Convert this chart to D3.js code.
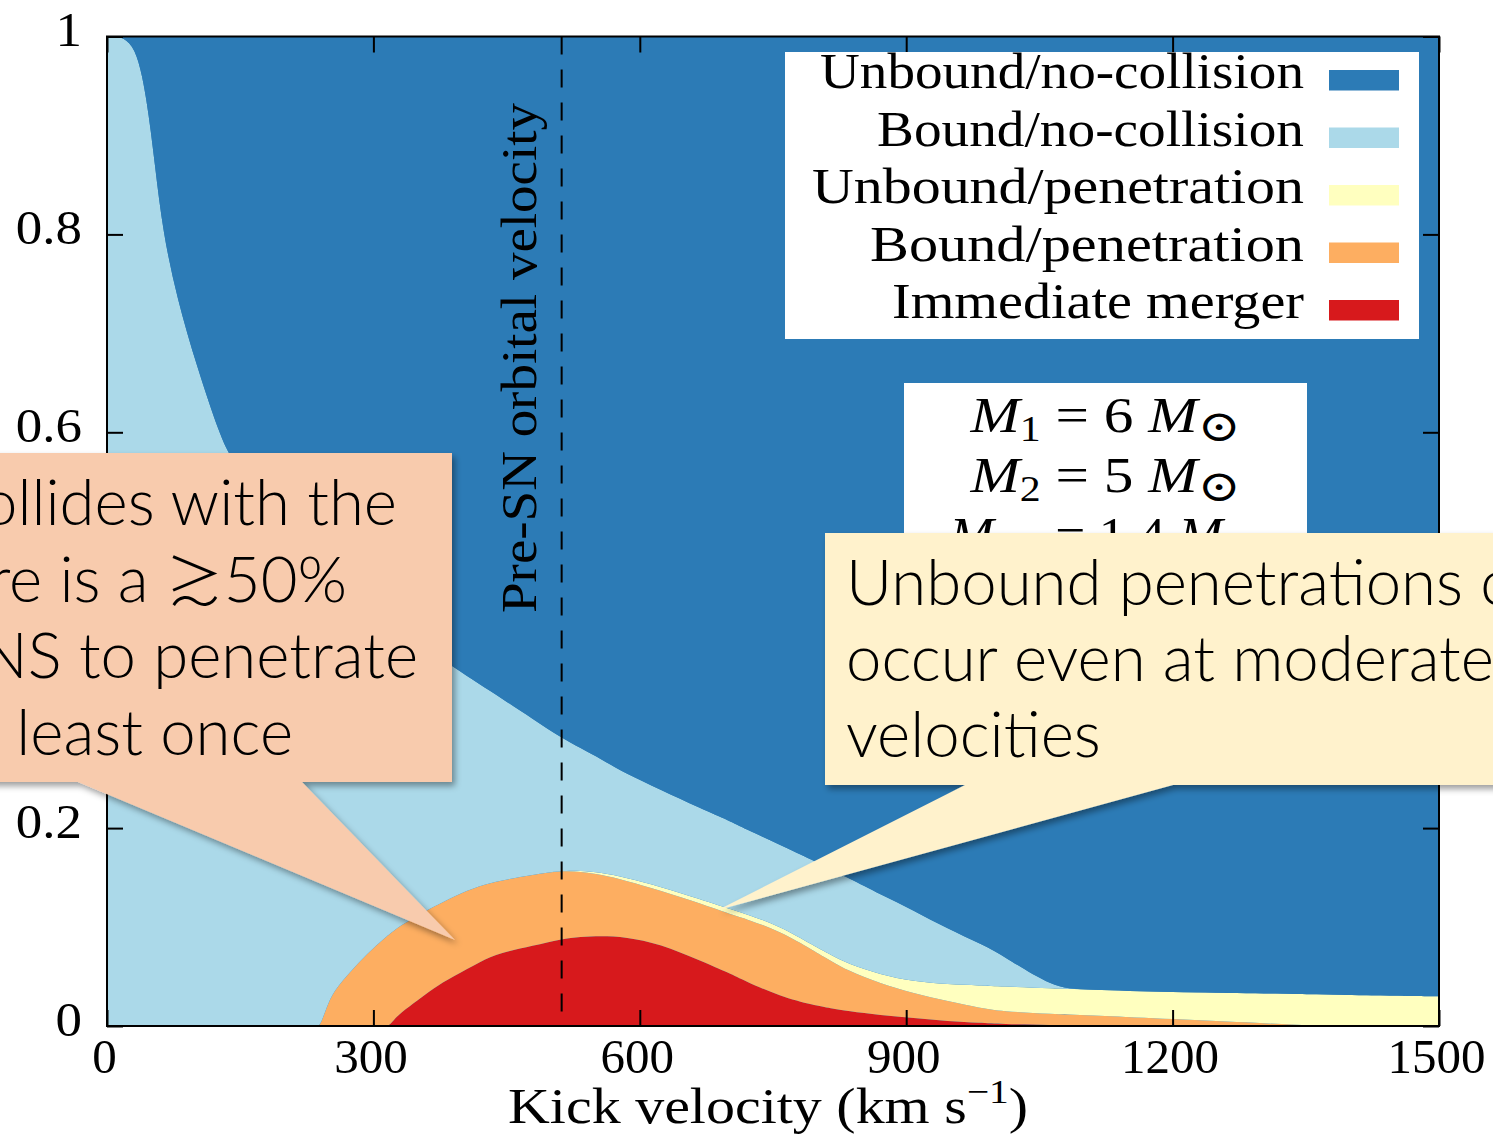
<!DOCTYPE html>
<html>
<head>
<meta charset="utf-8">
<script src="https://cdn.jsdelivr.net/npm/d3@7"></script>
<style>
  html, body { margin: 0; padding: 0; background: #fff; overflow: hidden; }
  svg { display: block; }
</style>
</head>
<body>
<svg id="chart" width="1493" height="1140"></svg>
<script>
// Kick velocity samples (km/s)
const velocity = [0, 31, 45, 54, 63, 79, 101, 127, 139, 160, 200, 236, 240, 247, 255, 274, 293, 313, 317, 323, 330,
  350, 367, 390, 420, 443, 480, 512, 533, 556, 584, 623, 668, 702, 717, 758, 796, 815, 834, 871, 908,
  947, 984, 1006, 1066, 1100, 1200, 1300, 1359, 1400, 1500];

// Outcome fractions at each kick velocity (they sum to one)
const immediateMerger = [0, 0, 0, 0, 0, 0, 0, 0, 0, 0, 0, 0, 0, 0, 0, 0, 0, 0, 0, 0.006, 0.013,
  0.026, 0.038, 0.050, 0.065, 0.074, 0.081, 0.088, 0.090, 0.091, 0.090, 0.083, 0.066, 0.053, 0.046, 0.030, 0.021, 0.018, 0.015, 0.011, 0.008,
  0.005, 0.003, 0.002, 0.001, 0, 0, 0, 0, 0, 0];
const boundPenetration = [0, 0, 0, 0, 0, 0, 0, 0, 0, 0, 0, 0, 0, 0.018, 0.035, 0.055, 0.073, 0.089, 0.092, 0.090, 0.088,
  0.086, 0.082, 0.081, 0.077, 0.073, 0.072, 0.069, 0.066, 0.062, 0.057, 0.054, 0.058, 0.060, 0.063, 0.066, 0.055, 0.048, 0.041, 0.032, 0.025,
  0.020, 0.015, 0.013, 0.011, 0.011, 0.007, 0.003, 0, 0, 0];
const unboundPenetration = [0, 0, 0, 0, 0, 0, 0, 0, 0, 0, 0, 0, 0, 0, 0, 0, 0, 0, 0, 0, 0,
  0, 0, 0, 0, 0, 0, 0, 0.001, 0.002, 0.003, 0.004, 0.004, 0.005, 0.005, 0.005, 0.005, 0.006, 0.007, 0.009, 0.012,
  0.017, 0.023, 0.025, 0.026, 0.026, 0.027, 0.030, 0.032, 0.031, 0.030];
const boundNoCollision = [1, 1, 0.937, 0.870, 0.802, 0.735, 0.667, 0.597, 0.575, 0.548, 0.503, 0.468, 0.464, 0.440, 0.417, 0.382, 0.351, 0.322, 0.316, 0.308, 0.299,
  0.276, 0.257, 0.232, 0.203, 0.185, 0.157, 0.134, 0.124, 0.115, 0.105, 0.098, 0.092, 0.089, 0.086, 0.082, 0.086, 0.086, 0.087, 0.081, 0.072,
  0.056, 0.042, 0.033, 0, 0, 0, 0, 0, 0, 0];
const unboundNoCollision = [0, 0, 0.063, 0.130, 0.198, 0.265, 0.333, 0.403, 0.425, 0.452, 0.497, 0.532, 0.536, 0.542, 0.548, 0.563, 0.576, 0.589, 0.592, 0.596, 0.600,
  0.612, 0.623, 0.637, 0.655, 0.668, 0.690, 0.709, 0.719, 0.730, 0.745, 0.761, 0.780, 0.793, 0.800, 0.817, 0.833, 0.842, 0.850, 0.867, 0.883,
  0.902, 0.917, 0.927, 0.962, 0.963, 0.966, 0.967, 0.968, 0.969, 0.970];

// Series, stacked bottom to top
const seriesKeys = ["merger", "boundPen", "unboundPen", "boundNo", "unboundNo"];
const seriesLabels = ["Immediate merger", "Bound/penetration", "Unbound/penetration", "Bound/no-collision", "Unbound/no-collision"];
const seriesColors = ["#d7191c", "#fdae61", "#ffffbf", "#abd9e9", "#2c7bb6"];

const xTicks = [0, 300, 600, 900, 1200, 1500];
const yTicks = [0, 0.2, 0.4, 0.6, 0.8, 1];
const preSNVelocity = 512;

const massLines = [
  { sub: "1", rhs: "6" },
  { sub: "2", rhs: "5" },
  { sub: "NS", rhs: "1.4" }
];

// Callout texts; each line is split at the math symbol so it can use its own font
const noteLeft = [["ollides with the"], ["re is a ", "\u2273", "50%"], ["NS to penetrate"], ["least once"]];
const noteRight = ["Unbound penetrations c", "occur even at moderate", "velocities"];

// ---------------------------------------------------------------
const svg = d3.select("#chart");
const serif = "'Liberation Serif', 'DejaVu Serif', serif";
const sans = "Lato, 'Open Sans', 'DejaVu Sans', sans-serif";
const symbolFont = "'Noto Sans CJK JP', 'DejaVu Sans', sans-serif";

const x = d3.scaleLinear().domain([0, 1500]).range([107, 1439]);
const y = d3.scaleLinear().domain([0, 1]).range([1026, 36.5]);

const rows = velocity.map((v, i) => ({
  v,
  merger: immediateMerger[i],
  boundPen: boundPenetration[i],
  unboundPen: unboundPenetration[i],
  boundNo: boundNoCollision[i],
  unboundNo: unboundNoCollision[i]
}));

const stacked = d3.stack().keys(seriesKeys)(rows);

const defs = svg.append("defs");
defs.append("clipPath").attr("id", "plotClip")
  .append("rect")
  .attr("x", x(0)).attr("y", y(1))
  .attr("width", x(1500) - x(0)).attr("height", y(0) - y(1));

const shadow = defs.append("filter").attr("id", "calloutShadow")
  .attr("x", "-10%").attr("y", "-10%").attr("width", "130%").attr("height", "130%");
shadow.append("feDropShadow")
  .attr("dx", 3).attr("dy", 4).attr("stdDeviation", 3)
  .attr("flood-color", "#000").attr("flood-opacity", 0.38);

const area = d3.area()
  .x(d => x(d.data.v))
  .y0(d => y(d[0]))
  .y1(d => y(Math.min(1, d[1])))
  .curve(d3.curveBasis);

const plot = svg.append("g").attr("clip-path", "url(#plotClip)");
plot.append("rect")
  .attr("x", x(0)).attr("y", y(1))
  .attr("width", x(1500) - x(0)).attr("height", y(0) - y(1))
  .attr("fill", seriesColors[4]);
plot.selectAll("path.layer")
  .data(stacked)
  .join("path")
  .attr("class", "layer")
  .attr("fill", (d, i) => seriesColors[i])
  .attr("d", area);

// Pre-SN orbital velocity marker
svg.append("line")
  .attr("x1", x(preSNVelocity)).attr("x2", x(preSNVelocity))
  .attr("y1", y(1)).attr("y2", y(0))
  .attr("stroke", "#000").attr("stroke-width", 2)
  .attr("stroke-dasharray", "18,15");

svg.append("text")
  .attr("transform", `translate(${x(preSNVelocity) - 26},613) rotate(-90)`)
  .attr("font-family", serif).attr("font-size", 50)
  .attr("textLength", 510).attr("lengthAdjust", "spacingAndGlyphs")
  .attr("fill", "#000")
  .text("Pre-SN orbital velocity");

// Axes: inward ticks on all four sides
const tickLen = 16;
const bottomAxis = svg.append("g").attr("transform", `translate(0,${y(0)})`)
  .call(d3.axisBottom(x).tickValues(xTicks).tickSize(-tickLen).tickPadding(12).tickFormat(d3.format("d")));
const topAxis = svg.append("g").attr("transform", `translate(0,${y(1)})`)
  .call(d3.axisTop(x).tickValues(xTicks).tickSize(-tickLen).tickFormat(""));
const leftAxis = svg.append("g").attr("transform", `translate(${x(0)},0)`)
  .call(d3.axisLeft(y).tickValues(yTicks).tickSize(-tickLen).tickPadding(25).tickFormat(d3.format("~g")));
const rightAxis = svg.append("g").attr("transform", `translate(${x(1500)},0)`)
  .call(d3.axisRight(y).tickValues(yTicks).tickSize(-tickLen).tickFormat(""));

[bottomAxis, topAxis, leftAxis, rightAxis].forEach(g => {
  g.select(".domain").remove();
  g.selectAll(".tick line").attr("stroke", "#000").attr("stroke-width", 2);
  g.selectAll("text").attr("font-family", serif).attr("font-size", 49).attr("fill", "#000");
});
bottomAxis.selectAll("text").attr("dy", "0.71em").attr("dx", -3);
leftAxis.selectAll("text").attr("dy", "0.19em")
  .each(function () {
    // slightly wider numerals, closer to the Computer Modern look
    const w = this.getComputedTextLength();
    this.setAttribute("textLength", w * 1.08);
    this.setAttribute("lengthAdjust", "spacingAndGlyphs");
  });

svg.append("rect")
  .attr("x", x(0)).attr("y", y(1))
  .attr("width", x(1500) - x(0)).attr("height", y(0) - y(1))
  .attr("fill", "none").attr("stroke", "#000").attr("stroke-width", 2);

// X axis title
const xTitle = svg.append("text")
  .attr("x", 508).attr("y", 1123)
  .attr("font-family", serif).attr("font-size", 50).attr("fill", "#000")
  .attr("textLength", 520).attr("lengthAdjust", "spacingAndGlyphs");
xTitle.append("tspan").text("Kick velocity (km s");
xTitle.append("tspan").attr("font-size", 34).attr("dy", -20).text("\u22121");
xTitle.append("tspan").attr("dy", 20).text(")");

// Legend, top entry first
const legendWidths = [484, 427, 492, 434, 412];
const legend = svg.append("g");
legend.append("rect")
  .attr("x", 785).attr("y", 52).attr("width", 634).attr("height", 287)
  .attr("fill", "#fff");
const legendOrder = d3.range(seriesKeys.length).reverse();
legendOrder.forEach((si, row) => {
  const top = 70 + row * 57.5;
  legend.append("rect")
    .attr("x", 1329).attr("y", top).attr("width", 70).attr("height", 20.5)
    .attr("fill", seriesColors[si]);
  legend.append("text")
    .attr("x", 1304).attr("y", top + 18)
    .attr("text-anchor", "end")
    .attr("font-family", serif).attr("font-size", 50).attr("fill", "#000")
    .attr("textLength", legendWidths[row]).attr("lengthAdjust", "spacingAndGlyphs")
    .text(seriesLabels[si]);
});

// Mass parameters box
const massBox = svg.append("g");
massBox.append("rect")
  .attr("x", 904).attr("y", 383).attr("width", 403).attr("height", 190)
  .attr("fill", "#fff");
const massWidths = [270, 270, 312];
massLines.forEach((m, i) => {
  const t = massBox.append("text")
    .attr("x", 1105.5).attr("y", 432 + i * 60)
    .attr("text-anchor", "middle")
    .attr("font-family", serif).attr("font-size", 51).attr("fill", "#000")
    .attr("textLength", massWidths[i]).attr("lengthAdjust", "spacingAndGlyphs");
  t.append("tspan").attr("font-style", "italic").text("M");
  t.append("tspan").attr("font-size", 36).attr("dy", 9).text(m.sub);
  t.append("tspan").attr("dy", -9).text(` = ${m.rhs} `);
  t.append("tspan").attr("font-style", "italic").text("M");
  t.append("tspan").attr("font-size", 44).attr("dy", 9).text("\u2299");
});

// Callouts
const callouts = svg.append("g");
callouts.append("path")
  .attr("d", "M-30,453 H452 V782 H302 L455,940 L78,782 H-30 Z")
  .attr("fill", "#f8cbad").attr("filter", "url(#calloutShadow)");
callouts.append("path")
  .attr("d", "M825,533 H1530 V785 H1173 L718,910 L965,785 H825 Z")
  .attr("fill", "#fff2cc").attr("filter", "url(#calloutShadow)");

const leftEnds = [397, 347, 418, 293];
noteLeft.forEach((parts, i) => {
  const t = callouts.append("text")
    .attr("x", leftEnds[i]).attr("y", 525 + i * 76.7)
    .attr("text-anchor", "end")
    .attr("font-family", sans).attr("font-size", 63.5).attr("font-weight", 300)
    .attr("fill", "#000");
  parts.forEach(p => {
    const span = t.append("tspan").text(p);
    if (p === "\u2273") span.attr("font-family", symbolFont).attr("font-size", 58);
  });
});
noteRight.forEach((s, i) => {
  callouts.append("text")
    .attr("x", 846).attr("y", 605 + i * 76)
    .attr("font-family", sans).attr("font-size", 63.5).attr("font-weight", 300)
    .attr("fill", "#000")
    .text(s);
});
</script>
</body>
</html>
